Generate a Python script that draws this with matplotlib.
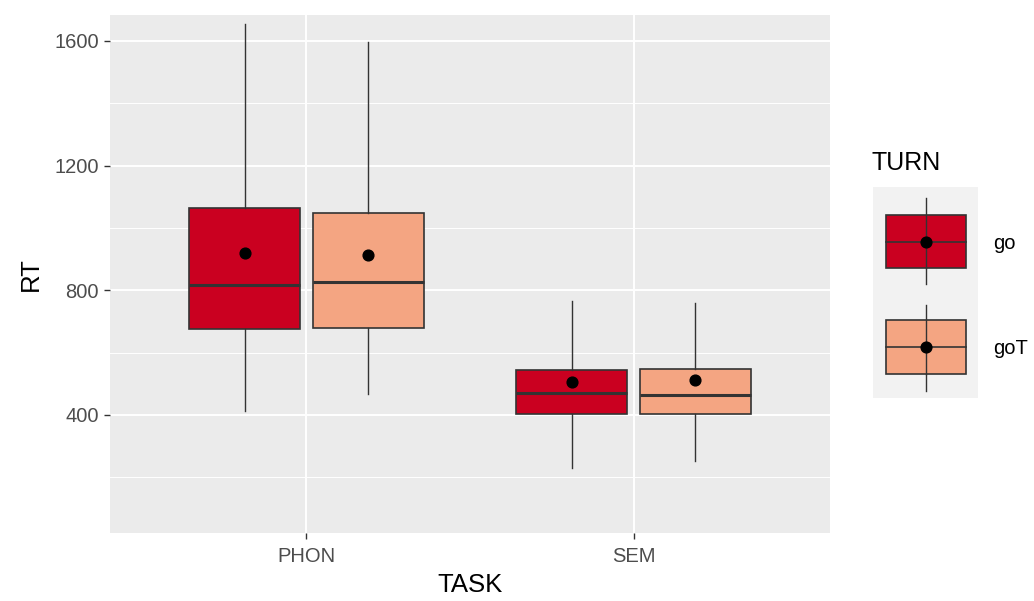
import matplotlib
matplotlib.use('agg')
import matplotlib.pyplot as plt
from matplotlib.patches import Rectangle

# data
tasks = ['PHON', 'SEM']
turns = ['go', 'goT']
colors = {'go': '#CA0020', 'goT': '#F4A582'}

whislo = {'go': [413, 230], 'goT': [467, 252]}
q1 = {'go': [676, 403], 'goT': [679, 403]}
med = {'go': [817, 471], 'goT': [827, 464]}
q3 = {'go': [1064, 544], 'goT': [1048, 548]}
whishi = {'go': [1654, 766], 'goT': [1597, 759]}
means = {'go': [920, 506], 'goT': [913, 512]}

W, H = 1034, 601
fig = plt.figure(figsize=(W / 100, H / 100), dpi=100)
plt.rcParams['font.family'] = ['Liberation Sans', 'DejaVu Sans']

left, right, top, bottom = 110, 830, 15, 533
ax = fig.add_axes([left / W, (H - bottom) / H, (right - left) / W, (bottom - top) / H])
ax.set_facecolor('#EBEBEB')
for s in ax.spines.values():
    s.set_visible(False)

ax.set_xlim(0.4, 2.6)
ax.set_ylim(21, 1683)
ax.set_yticks([400, 800, 1200, 1600])
ax.set_yticks([200, 600, 1000, 1400], minor=True)
ax.set_xticks([1, 2])
ax.set_xticklabels(tasks)
ax.grid(which='major', color='white', linewidth=1.4)
ax.grid(which='minor', axis='y', color='white', linewidth=0.7)
ax.set_axisbelow(True)
ax.tick_params(which='major', color='#333333', length=4, width=1,
               labelsize=14.5, labelcolor='#4D4D4D')
ax.tick_params(axis='x', pad=6)
ax.tick_params(axis='y', pad=4)
ax.tick_params(which='minor', length=0)
ax.set_xlabel('TASK', fontsize=18.5, labelpad=5)
ax.set_ylabel('RT', fontsize=18.5, labelpad=8)

offset = 0.189
width = 0.338
for k, turn in enumerate(turns):
    pos = [i + 1 + (k * 2 - 1) * offset for i in range(len(tasks))]
    stats = []
    for i in range(len(tasks)):
        stats.append(dict(whislo=whislo[turn][i], q1=q1[turn][i], med=med[turn][i],
                          q3=q3[turn][i], whishi=whishi[turn][i], fliers=[]))
    ax.bxp(stats, positions=pos, widths=width, patch_artist=True, showcaps=False,
           boxprops=dict(facecolor=colors[turn], edgecolor='#333333', linewidth=1.2),
           medianprops=dict(color='#333333', linewidth=2.2),
           whiskerprops=dict(color='#333333', linewidth=1.0),
           manage_ticks=False, zorder=2)
    ax.scatter(pos, means[turn], s=60, color='black', zorder=3)

# legend
fig.text(872 / W, 1 - 163 / H, 'TURN', fontsize=18, va='center', ha='left')
lx0, lx1, ly0, ly1 = 873, 978, 187, 398
lax = fig.add_axes([lx0 / W, (H - ly1) / H, (lx1 - lx0) / W, (ly1 - ly0) / H])
lax.set_facecolor('#F2F2F2')
lax.set_xlim(lx0, lx1)
lax.set_ylim(ly1, ly0)
lax.set_xticks([])
lax.set_yticks([])
for s in lax.spines.values():
    s.set_visible(False)
keys = [(215, 268, 198, 284), (320, 374, 305, 391)]
for turn, (b0, b1, w0, w1) in zip(turns, keys):
    cx = 926
    lax.plot([cx, cx], [w0, w1], color='#333333', linewidth=1.0, zorder=1)
    lax.add_patch(Rectangle((886, b0), 80, b1 - b0, facecolor=colors[turn],
                            edgecolor='#333333', linewidth=1.2, zorder=2))
    lax.plot([886, 966], [(b0 + b1) / 2] * 2, color='#333333', linewidth=1.2, zorder=3)
    lax.plot([cx, cx], [b0, b1], color='#333333', linewidth=1.0, zorder=3)
    lax.scatter([cx], [(b0 + b1) / 2], s=60, color='black', zorder=4)
    fig.text(993 / W, 1 - ((b0 + b1) / 2 + 2) / H, turn, fontsize=14.5,
             va='center', ha='left')

plt.savefig('out.png', dpi=100)
